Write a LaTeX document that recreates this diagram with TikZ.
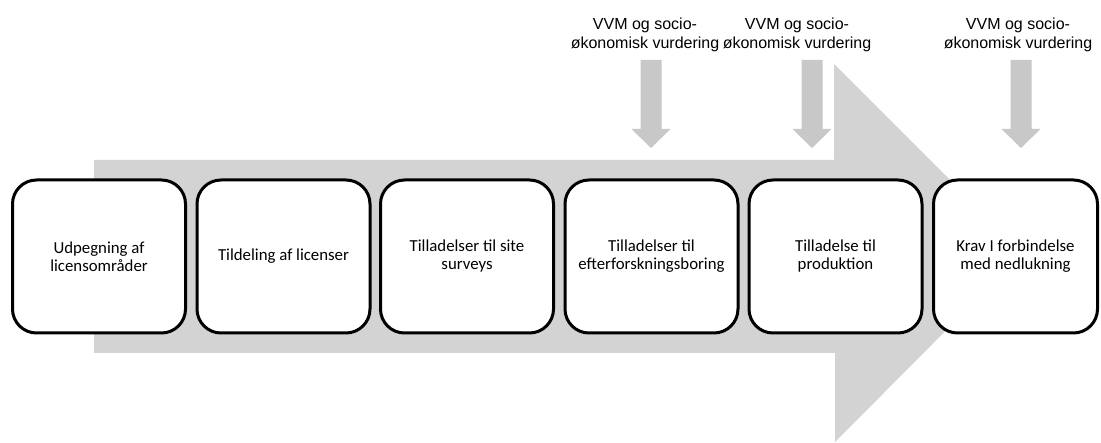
\documentclass[tikz,border=0pt]{standalone}
\usepackage{fontspec}
\setmainfont{Carlito}
\newfontfamily\arialfont{Liberation Sans}
\definecolor{bigarrowgray}{RGB}{211,211,211}
\definecolor{smallarrowgray}{RGB}{200,200,200}
\begin{document}
\begin{tikzpicture}[x=1pt,y=-1pt,
  stepbox/.style={draw=black, line width=3pt, fill=white, rounded corners=24pt,
    minimum width=173pt, minimum height=153pt, align=center, inner sep=0pt,
    font=\fontsize{16.8pt}{18pt}\selectfont},
  toplabel/.style={align=center, inner sep=0pt, anchor=north,
    font=\arialfont\fontsize{16pt}{19.5pt}\selectfont},
  bigarrow/.style={fill=bigarrowgray},
  smallarrow/.style={fill=smallarrowgray},
  pics/downarrow/.style={code={
    \fill[smallarrow] (-10.5,0) -- (10.5,0) -- (10.5,69) -- (19.5,69) -- (0,88)
      -- (-19.5,69) -- (-10.5,69) -- cycle;}}
]
\fill[white] (0,0) rectangle (1101,443);
\useasboundingbox (0,0) rectangle (1101,443);

% big background arrow
\fill[bigarrow] (94,160) -- (834,160) -- (834,64) -- (1023,253) -- (835,442)
  -- (835,353) -- (94,353) -- cycle;

% small down arrows
\pic at (651,60) {downarrow};
\pic at (812,60) {downarrow};
\pic at (1021,60) {downarrow};

% top labels
\node[toplabel] (l1) at (645,17.5) {VVM og socio-\\økonomisk vurdering};
\node[toplabel] (l2) at (797,17.5) {VVM og socio-\\økonomisk vurdering};
\node[toplabel] (l3) at (1018,17.5) {VVM og socio-\\økonomisk vurdering};

% step boxes
\node[stepbox] (b1) at (99,256.5) {Udpegning af\\licensområder};
\node[stepbox] (b2) at (283.5,256.5) {Tildeling af licenser};
\node[stepbox] (b3) at (467,256.5) {Tilladelser til site\\surveys};
\node[stepbox] (b4) at (651.5,256.5) {Tilladelser til\\efterforskningsboring};
\node[stepbox] (b5) at (835.5,256.5) {Tilladelse til\\produktion};
\node[stepbox, minimum width=164pt] (b6) at (1015.5,256.5) {Krav I forbindelse\\med nedlukning};
\end{tikzpicture}
\end{document}
